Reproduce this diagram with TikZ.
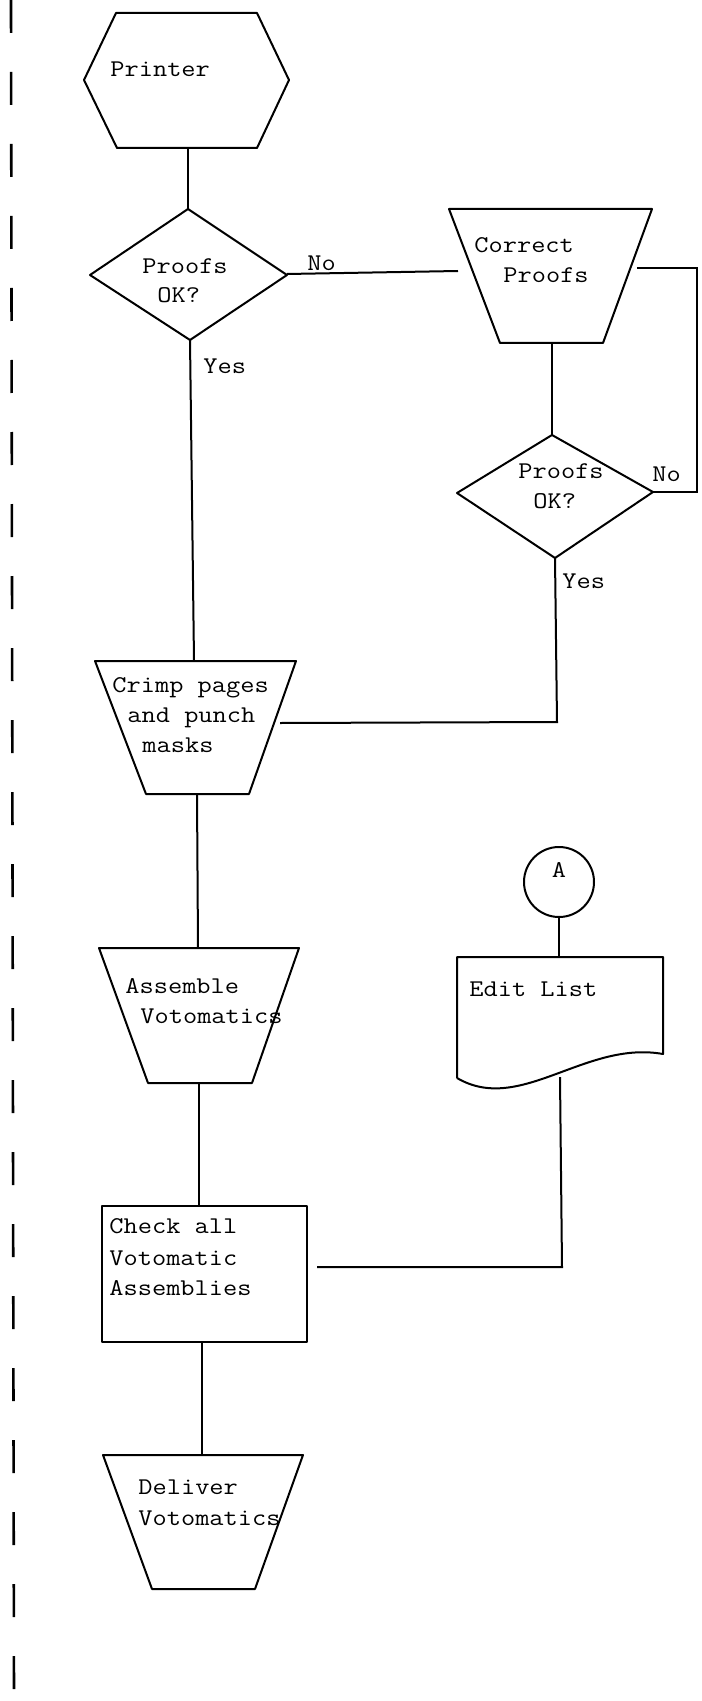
\documentclass[tikz,border=0pt]{standalone}
\usepackage{fontspec}
\setmonofont[FakeStretch=1.15]{Latin Modern Mono}
\begin{document}
\begin{tikzpicture}[x=0.5pt,y=-0.5pt,
  flow/.style={line width=1pt, line join=round},
  link/.style={line width=1pt},
  lbl/.style={font=\fontsize{12}{15}\selectfont\ttfamily, inner sep=0pt, anchor=base west},
  margin/.style={line width=1.3pt, dash pattern=on 16.5pt off 19.5pt}]
\useasboundingbox (0,0) rectangle (701,1701);

% binding margin rule
\draw[margin] (11,0) -- (14,1701);

% Printer (hexagon)
\draw[flow] (116,13) -- (257,13) -- (289,80) -- (257,148) -- (117,148) -- (84,80) -- cycle;
\coordinate (prnS) at (188,148);
\node[lbl] (prnT) at (110,77) {Printer};

% first decision
\draw[flow] (188,209) -- (287,275) -- (190,340) -- (90,275) -- cycle;
\coordinate (d1N) at (188,209);
\coordinate (d1E) at (287,274);
\coordinate (d1S) at (190,340);
\node[lbl] (d1a) at (142,274) {Proofs};
\node[lbl] (d1b) at (157,303) {OK?};
\node[lbl] (d1no) at (307,271) {No};
\node[lbl] (d1yes) at (203,373) {Yes};

% Correct Proofs (manual operation)
\draw[flow] (449,209) -- (652,209) -- (603,343) -- (500,343) -- cycle;
\coordinate (cpW) at (458,271);
\coordinate (cpE) at (637,268);
\coordinate (cpS) at (552,343);
\node[lbl] (cpa) at (474,253) {Correct};
\node[lbl] (cpb) at (503,283) {Proofs};

% second decision
\draw[flow] (552,435) -- (653,492) -- (555,558) -- (457,493) -- cycle;
\coordinate (d2N) at (552,435);
\coordinate (d2E) at (653,492);
\coordinate (d2S) at (555,558);
\node[lbl] (d2a) at (518,478) {Proofs};
\node[lbl] (d2b) at (533,508) {OK?};
\node[lbl] (d2no) at (652,481) {No};
\node[lbl] (d2yes) at (562,588) {Yes};

% Crimp pages and punch masks
\draw[flow] (95,661) -- (296,661) -- (249,794) -- (146,794) -- cycle;
\coordinate (crN) at (194,661);
\coordinate (crE) at (280,723);
\coordinate (crS) at (197,794);
\node[lbl] (cra) at (112,692) {Crimp pages};
\node[lbl] (crb) at (127,722) {and punch};
\node[lbl] (crc) at (142,752) {masks};

% Assemble Votomatics
\draw[flow] (99,948) -- (299,948) -- (252,1083) -- (148,1083) -- cycle;
\coordinate (asN) at (198,948);
\coordinate (asS) at (199,1083);
\node[lbl] (asa) at (125,993) {Assemble};
\node[lbl] (asb) at (140,1023) {Votomatics};

% connector A
\draw[flow] (559,882) circle[radius=35];
\coordinate (conS) at (559,917);
\node[lbl, anchor=base] (conT) at (559,877) {A};

% Edit List (document)
\draw[flow] (457,1078) -- (457,957) -- (663,957) -- (663,1054)
  .. controls (585,1040) and (520,1115) .. (457,1078);
\coordinate (edN) at (559,957);
\coordinate (edS) at (560,1077);
\node[lbl] (edT) at (469,996) {Edit List};

% Check all Votomatic Assemblies
\draw[flow] (102,1206) rectangle (307,1342);
\coordinate (ckN) at (199,1206);
\coordinate (ckE) at (317,1267);
\coordinate (ckS) at (202,1342);
\node[lbl] (cka) at (109,1233) {Check all};
\node[lbl] (ckb) at (109,1265) {Votomatic};
\node[lbl] (ckc) at (109,1295) {Assemblies};

% Deliver Votomatics
\draw[flow] (103,1455) -- (303,1455) -- (255,1589) -- (152,1589) -- cycle;
\coordinate (dvN) at (202,1455);
\node[lbl] (dva) at (138,1494) {Deliver};
\node[lbl] (dvb) at (138,1525) {Votomatics};

% connectors
\draw[link] (prnS) -- (d1N);
\draw[link] (d1E) -- (cpW);
\draw[link] (cpE) -- (697,268) |- (d2E);
\draw[link] (cpS) -- (d2N);
\draw[link] (d2S) -- (557,722) -- (crE);
\draw[link] (d1S) -- (crN);
\draw[link] (crS) -- (asN);
\draw[link] (asS) -- (ckN);
\draw[link] (conS) -- (edN);
\draw[link] (edS) -- (562,1267) -- (ckE);
\draw[link] (ckS) -- (dvN);
\end{tikzpicture}
\end{document}
